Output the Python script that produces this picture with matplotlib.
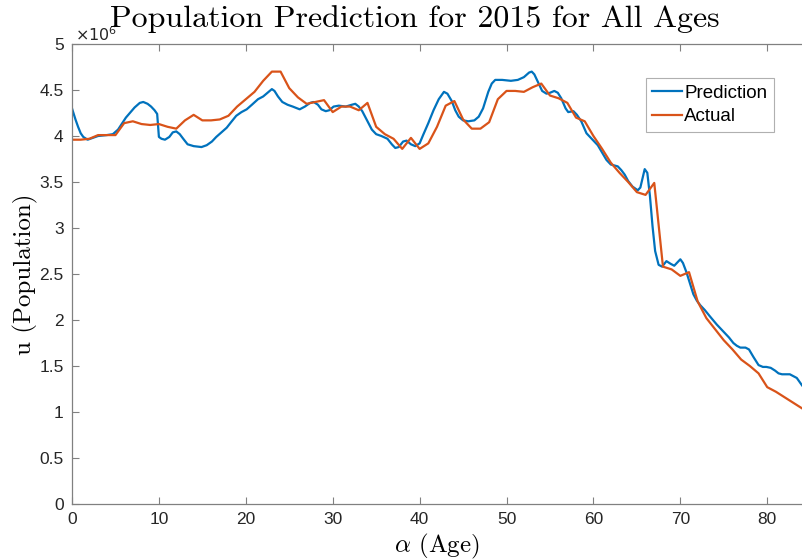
import matplotlib
matplotlib.use('Agg')
import matplotlib.pyplot as plt

# actual population (millions) at each age 0..84
ages = list(range(0, 85))
actual = [3.96, 3.96, 3.97, 4.01, 4.01, 4.01, 4.14, 4.16, 4.13, 4.12,
          4.13, 4.10, 4.08, 4.17, 4.23, 4.17, 4.17, 4.18, 4.22, 4.32,
          4.40, 4.48, 4.60, 4.70, 4.70, 4.52, 4.42, 4.35, 4.37, 4.39,
          4.26, 4.32, 4.32, 4.28, 4.36, 4.10, 4.02, 3.97, 3.86, 3.98,
          3.86, 3.92, 4.10, 4.33, 4.38, 4.18, 4.08, 4.08, 4.15, 4.40,
          4.49, 4.49, 4.48, 4.53, 4.57, 4.44, 4.41, 4.36, 4.20, 4.16,
          4.00, 3.86, 3.71, 3.60, 3.50, 3.39, 3.36, 3.49, 2.58, 2.55,
          2.48, 2.52, 2.20, 2.02, 1.90, 1.78, 1.68, 1.57, 1.50, 1.42,
          1.27, 1.22, 1.16, 1.10, 1.04]

# prediction (age, millions)
pred_age = [0.0, 0.4, 0.7, 1.0, 1.3, 1.8, 2.4, 3.0, 4.0, 4.7, 5.3, 6.2, 7.2, 7.8, 8.2,
            8.7, 9.1, 9.5, 9.8, 10.0, 10.3, 10.7, 11.2, 11.6, 12.0, 12.4, 12.8, 13.3,
            14.0, 14.9, 15.5, 16.1, 16.6, 17.2, 17.8, 18.3, 18.9, 19.5, 20.1, 20.7,
            21.4, 22.0, 22.5, 23.0, 23.3, 23.7, 24.2, 24.8, 25.4, 26.2, 26.8, 27.4,
            27.8, 28.3, 28.7, 29.2, 29.6, 30.1, 30.7, 31.5, 32.2, 32.6, 33.0, 33.4,
            34.0, 34.5, 35.0, 35.6, 36.3, 36.8, 37.2, 37.6, 38.1, 38.5, 39.0, 39.5,
            40.0, 40.4, 41.0, 41.6, 42.2, 42.8, 43.2, 43.7, 44.1, 44.5, 45.0, 45.6,
            46.3, 46.8, 47.3, 47.9, 48.3, 48.7, 49.5, 50.5, 51.3, 52.0, 52.6, 52.9,
            53.2, 53.6, 54.1, 54.6, 55.0, 55.5, 55.9, 56.3, 56.8, 57.1, 57.7, 58.1,
            58.6, 59.2, 60.0, 60.5, 61.0, 61.5, 62.0, 62.8, 63.2, 63.6, 64.0, 64.5,
            65.1, 65.4, 65.7, 65.9, 66.2, 66.5, 66.8, 67.1, 67.5, 67.9, 68.4, 68.9,
            69.3, 69.7, 70.0, 70.3, 70.7, 71.1, 71.5, 71.9, 72.3, 72.8, 73.4, 74.2,
            75.1, 75.6, 76.1, 76.5, 76.9, 77.5, 77.9, 78.4, 79.0, 79.5, 79.9, 80.4,
            80.9, 81.3, 81.7, 82.2, 82.6, 83.0, 83.4, 83.7, 84.0]
prediction = [4.30, 4.18, 4.10, 4.03, 3.99, 3.96, 3.98, 4.00, 4.01, 4.02, 4.07, 4.20, 4.31, 4.36, 4.37,
              4.35, 4.32, 4.28, 4.24, 3.99, 3.97, 3.96, 3.99, 4.04, 4.05, 4.02, 3.97, 3.91,
              3.89, 3.88, 3.90, 3.94, 3.99, 4.04, 4.09, 4.15, 4.22, 4.26, 4.29, 4.34,
              4.40, 4.43, 4.47, 4.51, 4.49, 4.43, 4.37, 4.34, 4.32, 4.29, 4.32, 4.36,
              4.37, 4.34, 4.29, 4.27, 4.28, 4.32, 4.33, 4.32, 4.34, 4.35, 4.32, 4.27,
              4.16, 4.07, 4.02, 4.00, 3.97, 3.91, 3.87, 3.88, 3.94, 3.95, 3.91, 3.89,
              3.92, 4.01, 4.14, 4.28, 4.40, 4.48, 4.46, 4.38, 4.28, 4.21, 4.17, 4.16,
              4.17, 4.21, 4.30, 4.48, 4.57, 4.61, 4.61, 4.60, 4.61, 4.64, 4.69, 4.70,
              4.67, 4.59, 4.49, 4.46, 4.47, 4.49, 4.47, 4.41, 4.30, 4.26, 4.27, 4.23,
              4.16, 4.03, 3.95, 3.90, 3.82, 3.74, 3.69, 3.67, 3.63, 3.58, 3.51, 3.45,
              3.41, 3.44, 3.56, 3.64, 3.60, 3.35, 3.02, 2.75, 2.60, 2.58, 2.64, 2.61,
              2.59, 2.63, 2.66, 2.62, 2.52, 2.40, 2.28, 2.21, 2.16, 2.11, 2.04, 1.95,
              1.86, 1.81, 1.75, 1.72, 1.70, 1.70, 1.68, 1.60, 1.51, 1.49, 1.49, 1.48,
              1.45, 1.42, 1.41, 1.41, 1.41, 1.39, 1.37, 1.33, 1.29]

xticks = [0, 10, 20, 30, 40, 50, 60, 70, 80]
yticks = [0, 0.5, 1, 1.5, 2, 2.5, 3, 3.5, 4, 4.5, 5]
ytick_labels = ['0', '0.5', '1', '1.5', '2', '2.5', '3', '3.5', '4', '4.5', '5']

plt.rcParams['font.family'] = ['Liberation Sans', 'DejaVu Sans']
plt.rcParams['mathtext.fontset'] = 'cm'

fig = plt.figure(figsize=(8.02, 5.6), dpi=100)
ax = fig.add_axes([72 / 802, 0.1, 1 - 72 / 802, 0.8214])

ax.plot(pred_age, prediction, color='#0072BD', lw=1.6, label='Prediction')
ax.plot(ages, actual, color='#D95319', lw=1.6, label='Actual')

ax.set_xlim(0, 84)
ax.set_ylim(0, 5)
ax.set_xticks(xticks)
ax.set_yticks(yticks)
ax.set_yticklabels(ytick_labels)

axis_gray = '#808080'
for s in ax.spines.values():
    s.set_color(axis_gray)
    s.set_linewidth(0.9)
ax.spines['right'].set_visible(False)
ax.tick_params(direction='in', length=5, width=0.8, color=axis_gray,
               labelcolor='#262626', labelsize=12.5, top=True, pad=6)

# MATLAB style exponent above the y axis
ax.text(0.004, 1.0, r'$\times10^{6}$', transform=ax.transAxes, math_fontfamily='dejavusans',
        fontsize=11.5, color='#262626', ha='left', va='bottom')

fig.text(415 / 802, 1 - 27 / 560, 'Population Prediction for 2015 for All Ages',
         family='cmr10', fontsize=23, ha='center', va='baseline')
ax.set_xlabel(r'$\alpha$ (Age)', family='cmr10', fontsize=18, labelpad=3)
ax.set_ylabel('u (Population)', family='cmr10', fontsize=18, labelpad=1)

leg = ax.legend(loc='upper right', bbox_to_anchor=(0.9616, 0.926), fontsize=13.5,
                fancybox=False, framealpha=1, edgecolor='#b0b0b0',
                handlelength=1.6, handletextpad=0.1, borderpad=0.35, labelspacing=0.35,
                borderaxespad=0)
leg.get_frame().set_linewidth(0.8)

fig.savefig('out.png', dpi=100)
